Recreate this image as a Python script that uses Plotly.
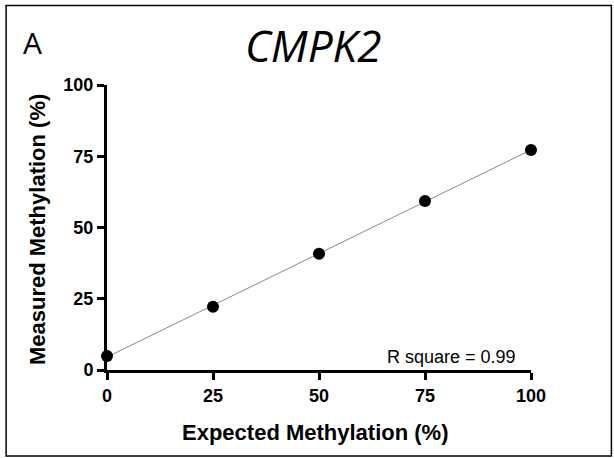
import numpy as np
import plotly.graph_objects as go

# Data
expected = [0, 25, 50, 75, 100]
measured = [4.9, 22.2, 40.8, 59.3, 77.2]
tick_vals = [0, 25, 50, 75, 100]
tick_text = ["<b>0</b>", "<b>25</b>", "<b>50</b>", "<b>75</b>", "<b>100</b>"]
panel_label = "A"
gene = "CMPK2"
r_square_text = "R square = 0.99"
x_title = "Expected Methylation (%)"
y_title = "Measured Methylation (%)"

# Linear regression from data
slope, intercept = np.polyfit(expected, measured, 1)
fit_x = [0, 100]
fit_y = [intercept + slope * v for v in fit_x]

W, H = 614, 458
L, R, T, B = 107, 82.5, 85, 88
pw, ph = W - L - R, H - T - B

def px(x):
    return (x - L) / pw

def py(y):
    return (H - B - y) / ph

fig = go.Figure()
fig.add_trace(go.Scatter(x=fit_x, y=fit_y, mode="lines",
                         line=dict(color="#8a8a8a", width=1),
                         hoverinfo="skip", showlegend=False, cliponaxis=False))
fig.add_trace(go.Scatter(x=expected, y=measured, mode="markers",
                         marker=dict(color="black", size=12),
                         showlegend=False, cliponaxis=False))

common = dict(range=[0, 100], tickvals=tick_vals, ticktext=tick_text,
              showgrid=False, zeroline=False, showline=True, linecolor="black",
              linewidth=3, ticks="outside", ticklen=7, tickwidth=3, tickcolor="black",
              tickfont=dict(family="Liberation Sans, Arial", size=18, color="black"))

fig.update_xaxes(**common)
fig.update_yaxes(**common)

fig.update_layout(
    width=W, height=H,
    margin=dict(l=L, r=R, t=T, b=B),
    paper_bgcolor="white", plot_bgcolor="white",
    font=dict(family="Liberation Sans, Arial", color="black"),
)

annotations = [
    dict(text="<b>" + x_title + "</b>", x=px(315), y=py(432), xref="paper", yref="paper",
         showarrow=False, font=dict(size=22, family="Liberation Sans, Arial", color="black"),
         xanchor="center", yanchor="middle"),
    dict(text="<b>" + y_title + "</b>", x=px(37), y=py(230), xref="paper", yref="paper",
         showarrow=False, textangle=-90,
         font=dict(size=22, family="Liberation Sans, Arial", color="black"),
         xanchor="center", yanchor="middle"),
    dict(text=r_square_text, x=px(518), y=py(357), xref="paper", yref="paper",
         showarrow=False, font=dict(size=18, family="Liberation Sans, Arial", color="black"),
         xanchor="right", yanchor="middle"),
    dict(text=panel_label, x=px(21), y=py(43), xref="paper", yref="paper",
         showarrow=False, font=dict(size=30, family="Open Sans", color="black"),
         xanchor="left", yanchor="middle"),
    dict(text="<i>" + gene + "</i>", x=px(313), y=py(45), xref="paper", yref="paper",
         showarrow=False, font=dict(size=44, family="Open Sans", color="black"),
         xanchor="center", yanchor="middle"),
]
fig.update_layout(annotations=annotations)

fig.add_shape(type="rect", xref="paper", yref="paper",
              x0=px(6), x1=px(612), y0=py(456), y1=py(5.5),
              line=dict(color="black", width=1.5), fillcolor="rgba(0,0,0,0)", layer="above")

fig.write_html("out.html")
